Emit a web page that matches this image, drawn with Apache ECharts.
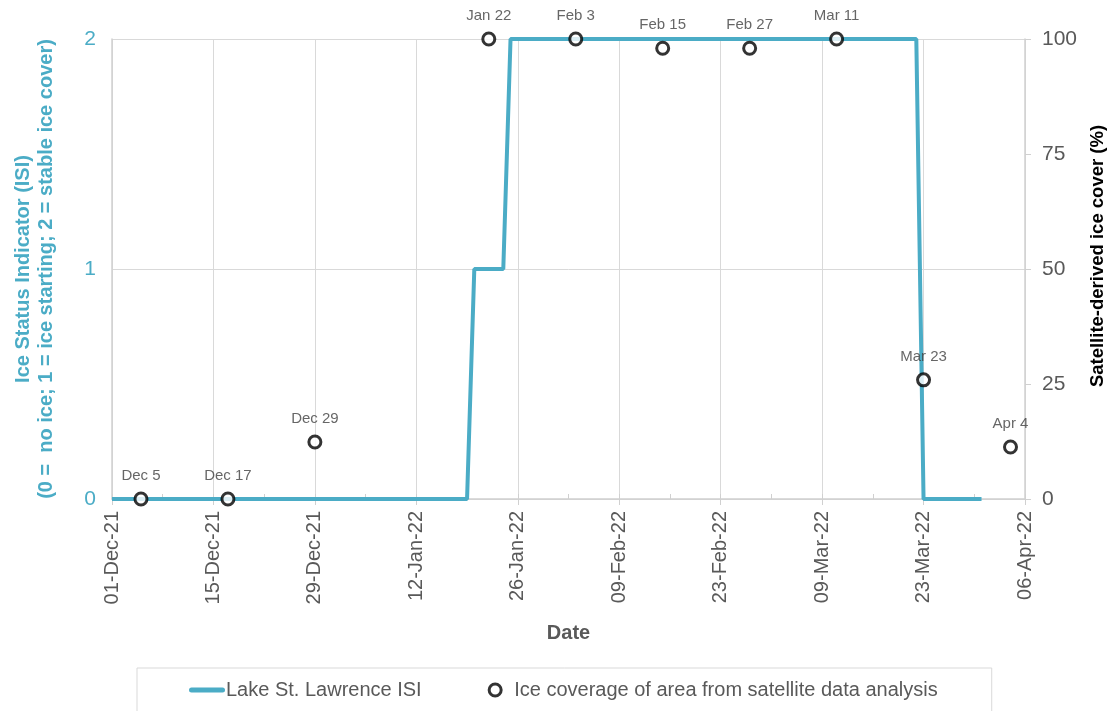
<!DOCTYPE html>
<html>
<head>
<meta charset="utf-8">
<script src="https://cdn.jsdelivr.net/npm/echarts@6/dist/echarts.min.js"></script>
<style>html,body{margin:0;padding:0;background:#fff;}#c{width:1109px;height:711px;}</style>
</head>
<body>
<div id="c"></div>
<script>
// ISI step change points (date, value)
const isiDates = ['2021-12-01','2022-01-19','2022-01-20','2022-01-24','2022-01-25','2022-03-22','2022-03-23','2022-03-31'];
const isiValues = [0, 0, 1, 1, 2, 2, 0, 0];
// Satellite observations
const satDates = ['2021-12-05','2021-12-17','2021-12-29','2022-01-22','2022-02-03','2022-02-15','2022-02-27','2022-03-11','2022-03-23','2022-04-04'];
const satValues = [0, 0, 12.4, 100, 100, 98, 98, 100, 25.9, 11.3];
const satLabels = ['Dec 5','Dec 17','Dec 29','Jan 22','Feb 3','Feb 15','Feb 27','Mar 11','Mar 23','Apr 4'];
const xStart = '2021-12-01';
const xEnd = '2022-04-06';
const months = ['Jan','Feb','Mar','Apr','May','Jun','Jul','Aug','Sep','Oct','Nov','Dec'];

function toUTC(s){ const p = s.split('-').map(Number); return Date.UTC(p[0], p[1]-1, p[2]); }
const base = toUTC(xStart);
function dayOf(s){ return Math.round((toUTC(s) - base) / 86400000); }
function fmt(v){
  const d = new Date(base + v * 86400000);
  const dd = String(d.getUTCDate()).padStart(2,'0');
  const yy = String(d.getUTCFullYear()).slice(2);
  return dd + '-' + months[d.getUTCMonth()] + '-' + yy;
}

const teal = '#4BACC6';
const grey = '#595959';
const chart = echarts.init(document.getElementById('c'));
chart.setOption({
  animation: false,
  textStyle: { fontFamily: 'Liberation Sans, Arial, sans-serif' },
  grid: { left: 112, right: 84, top: 39, bottom: 212, containLabel: false, outerBoundsMode: 'none' },
  xAxis: [{
    type: 'value', min: 0, max: dayOf(xEnd), interval: 14,
    name: 'Date', nameLocation: 'middle', nameGap: 124,
    nameTextStyle: { fontSize: 20, fontWeight: 'bold', color: grey },
    axisLine: { show: true, lineStyle: { color: '#d0d0d0', width: 1.5 } },
    axisTick: { show: true, length: 6, lineStyle: { color: '#d0d0d0' } },
    axisLabel: { rotate: 90, fontSize: 20, color: grey, margin: 12, formatter: fmt },
    splitLine: { show: true, lineStyle: { color: '#d9d9d9' } }
  }, {
    type: 'value', min: 0, max: dayOf(xEnd), interval: 7, position: 'bottom',
    axisLine: { show: false },
    axisTick: { show: true, inside: true, length: 5, lineStyle: { color: '#d0d0d0' } },
    axisLabel: { show: false },
    splitLine: { show: false }
  }],
  yAxis: [{
    type: 'value', min: 0, max: 2, interval: 1,
    name: 'Ice Status Indicator (ISI)\n(0 =  no ice; 1 = ice starting; 2 = stable ice cover)',
    nameLocation: 'middle', nameGap: 54, nameRotate: 90,
    nameTextStyle: { fontSize: 20, fontWeight: 'bold', color: teal, lineHeight: 23, align: 'center' },
    axisLine: { show: true, onZero: false, lineStyle: { color: '#d0d0d0', width: 1.5 } },
    axisTick: { show: false },
    axisLabel: { fontSize: 21, color: teal, margin: 16 },
    splitLine: { show: true, lineStyle: { color: '#d9d9d9' } }
  }, {
    type: 'value', min: 0, max: 100, interval: 25, position: 'right',
    name: 'Satellite-derived ice cover (%)',
    nameLocation: 'middle', nameGap: 63, nameRotate: 90,
    nameTextStyle: { fontSize: 18.5, fontWeight: 'bold', color: '#000', padding: [0, 0, 0, 26] },
    axisLine: { show: true, onZero: false, lineStyle: { color: '#d0d0d0', width: 1.5 } },
    axisTick: { show: true, length: 6, lineStyle: { color: '#d0d0d0' } },
    axisLabel: { fontSize: 21, color: grey, margin: 17 },
    splitLine: { show: false }
  }],
  legend: {
    left: 137, top: 668,
    padding: [12, 54, 14, 52],
    itemGap: 66, itemWidth: 36, itemHeight: 12,
    symbolKeepAspect: true,
    borderColor: '#d9d9d9', borderWidth: 1,
    textStyle: { fontSize: 20, color: grey, padding: [0, 0, 0, -4] },
    data: [
      { name: 'Lake St. Lawrence ISI', icon: 'path://M2.5,0 L33.5,0 A2.5,2.5 0 0 1 33.5,5 L2.5,5 A2.5,2.5 0 0 1 2.5,0 Z', itemStyle: { color: teal, borderWidth: 0 } },
      { name: 'Ice coverage of area from satellite data analysis', icon: 'circle', itemStyle: { color: '#fff', borderColor: '#000', borderWidth: 3 } }
    ]
  },
  series: [{
    name: 'Lake St. Lawrence ISI', type: 'line', xAxisIndex: 0, yAxisIndex: 0,
    symbol: 'none',
    lineStyle: { color: teal, width: 4 },
    itemStyle: { color: teal },
    data: isiDates.map((d, i) => [dayOf(d), isiValues[i]]),
    z: 2
  }, {
    name: 'Ice coverage of area from satellite data analysis', type: 'scatter',
    xAxisIndex: 0, yAxisIndex: 1, clip: false,
    symbol: 'circle', symbolSize: 12,
    itemStyle: { color: '#fff', borderColor: '#000', borderWidth: 3 },
    label: {
      show: true, position: 'top', distance: 8, fontSize: 15, color: '#404040',
      formatter: p => satLabels[p.dataIndex]
    },
    data: satDates.map((d, i) => [dayOf(d), satValues[i]]),
    z: 3
  }]
});
</script>
</body>
</html>
